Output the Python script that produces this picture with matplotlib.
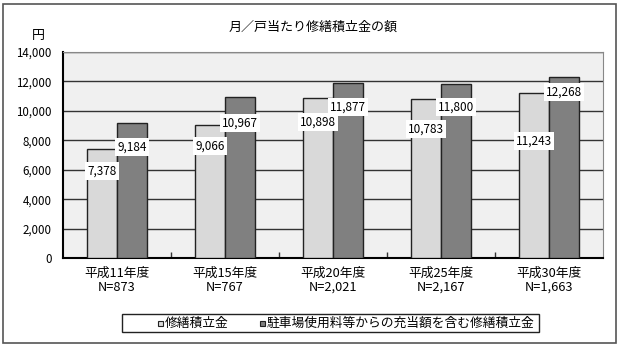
import matplotlib.pyplot as plt
import matplotlib.patches as mpatches
import numpy as np

plt.rcParams['font.family'] = ['Noto Sans CJK JP', 'DejaVu Sans']

categories = ['平成11年度\nN=873', '平成15年度\nN=767', '平成20年度\nN=2,021',
              '平成25年度\nN=2,167', '平成30年度\nN=1,663']
base = [7378, 9066, 10898, 10783, 11243]
with_parking = [9184, 10967, 11877, 11800, 12268]
series_names = ['修繕積立金', '駐車場使用料等からの充当額を含む修繕積立金']
colors = ['#d9d9d9', '#808080']

# label placement (value units below top of bar)
base_label_drop = [1465, 1454, 1655, 2016, 3292]
park_label_drop = [1640, 1792, 1615, 1538, 986]

W, H = 620, 347
fig = plt.figure(figsize=(6.2, 3.47), dpi=100)
fig.patches.append(mpatches.Rectangle((3 / W, 4 / H), 613 / W, 339 / H,
                                      transform=fig.transFigure, fill=False,
                                      edgecolor='#555555', linewidth=1.2))
ax = fig.add_axes([63 / W, 1 - 258 / H, 540 / W, 206 / H])
ax.set_facecolor('#f0f0f0')

x = np.arange(len(categories))
w = 0.275
ax.bar(x - 0.14, base, w, color=colors[0], edgecolor='#222222', linewidth=1.0, zorder=3)
ax.bar(x + 0.14, with_parking, w, color=colors[1], edgecolor='#222222', linewidth=1.0, zorder=3)

for i in range(len(x)):
    ax.text(x[i] - 0.14, base[i] - base_label_drop[i], f'{base[i]:,}', ha='center', va='center',
            fontsize=8.5, zorder=4, bbox=dict(facecolor='white', edgecolor='none', pad=1.5))
    ax.text(x[i] + 0.14, with_parking[i] - park_label_drop[i], f'{with_parking[i]:,}', ha='center',
            va='center', fontsize=8.5, zorder=4, bbox=dict(facecolor='white', edgecolor='none', pad=1.5))

ax.set_xlim(-0.5, len(x) - 0.5)
ax.set_ylim(0, 14000)
ax.set_yticks(range(0, 14001, 2000))
ax.set_yticklabels([f'{v:,}' for v in range(0, 14001, 2000)], fontsize=8.3)
ax.yaxis.grid(True, color='#333333', linewidth=1.0, zorder=0)
ax.set_axisbelow(True)
ax.tick_params(axis='y', length=0, pad=8)

ax.set_xticks(x)
ax.set_xticklabels(categories, fontsize=9.2, linespacing=1.15)
ax.set_xticks(np.arange(0.5, len(x) - 0.5, 1), minor=True)
ax.tick_params(axis='x', which='major', length=0, pad=6)
ax.tick_params(axis='x', which='minor', direction='in', length=4, width=1, color='#333333')

ax.spines['left'].set_linewidth(1.5)
ax.spines['bottom'].set_linewidth(1.5)
ax.spines['top'].set_color('#888888')
ax.spines['right'].set_color('#888888')

fig.text(313 / W, 1 - 27 / H, '月／戸当たり修繕積立金の額', ha='center', va='center', fontsize=9.4)
fig.text(38 / W, 1 - 35 / H, '円', ha='center', va='center', fontsize=9.4)

# legend drawn by hand to match the box layout
fig.patches.append(mpatches.Rectangle((122 / W, 1 - 332 / H), 417 / W, 18 / H,
                                      transform=fig.transFigure, facecolor='white',
                                      edgecolor='#222222', linewidth=1.0))
for mx, name, c in zip([158, 260], series_names, colors):
    fig.patches.append(mpatches.Rectangle((mx / W, 1 - 326 / H), 5 / W, 5 / H,
                                          transform=fig.transFigure, facecolor=c,
                                          edgecolor='#222222', linewidth=0.8))
    fig.text((mx + 6.5) / W, 1 - 323 / H, name, ha='left', va='center', fontsize=9.2)

plt.savefig('out.png', dpi=100)
